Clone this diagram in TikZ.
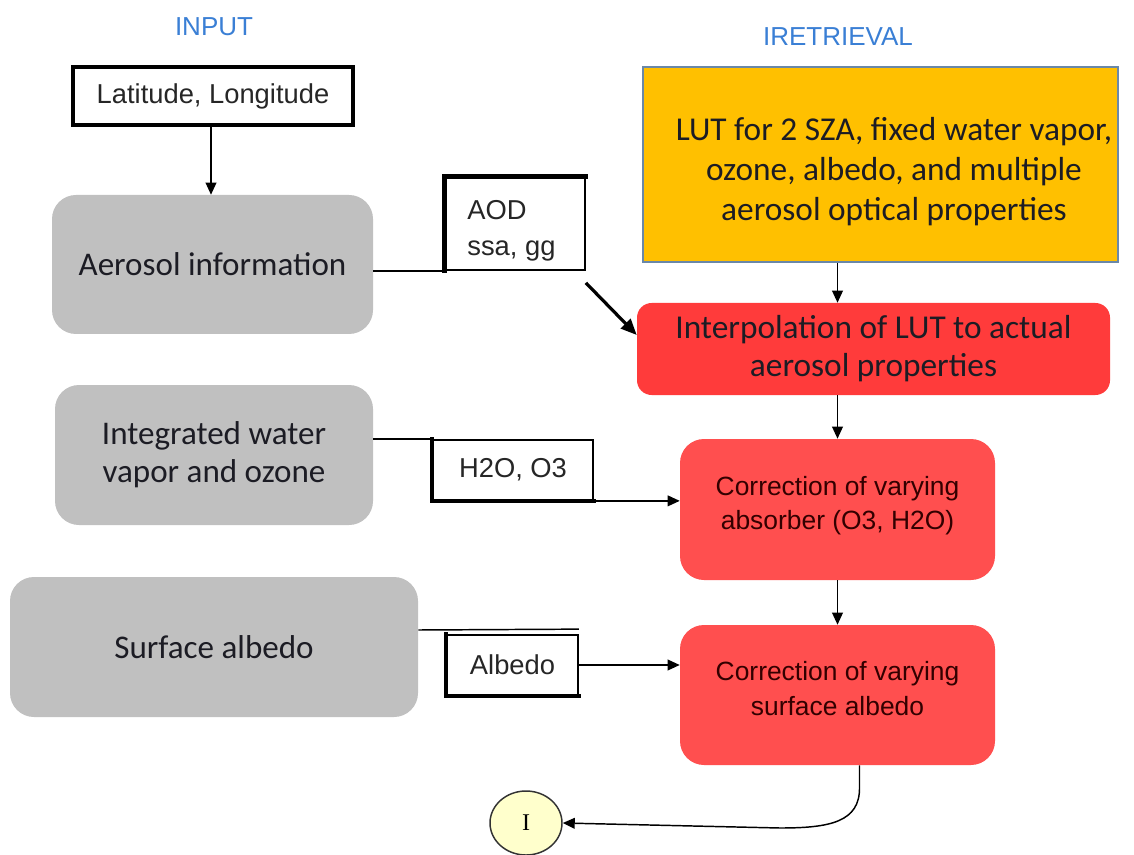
\documentclass[tikz,border=0pt]{standalone}
\usepackage{fontspec}
\setmainfont{Carlito}
\newfontfamily\pixfont{Liberation Sans}
\newfontfamily\seriffont{Liberation Serif}
\usetikzlibrary{arrows.meta,calc,shapes.geometric}
\definecolor{grayfill}{HTML}{C0C0C0}
\definecolor{lutfill}{HTML}{FFC000}
\definecolor{lutedge}{HTML}{6A88A8}
\definecolor{redA}{HTML}{FF3B3B}
\definecolor{redB}{HTML}{FF4F4F}
\definecolor{titleblue}{HTML}{3A7FD5}
\definecolor{circfill}{HTML}{FFFFCC}
\definecolor{txtdark}{HTML}{1C1C24}
\tikzset{
  x=0.75pt, y=-0.75pt,
  graybox/.style={fill=grayfill, rounded corners=18pt, align=center, text=txtdark,
    font=\fontsize{24.8}{28.5}\selectfont},
  redbox/.style={fill=redA, rounded corners=11pt, align=center, text=txtdark,
    font=\fontsize{25}{28.5}\selectfont},
  corrbox/.style={fill=redB, rounded corners=18pt, align=center, text=black!80!red,
    font=\pixfont\fontsize{19.8}{26}\selectfont},
  labbox/.style={draw=black, line width=1.3pt, fill=white, text=black!85,
    font=\pixfont\fontsize{20.5}{24}\selectfont},
  titletext/.style={text=titleblue, font=\pixfont\fontsize{19.5}{24}\selectfont},
  conn/.style={draw=black, line width=1.1pt},
  arr/.style={conn, -{Triangle[length=9pt,width=8pt]}},
}
\begin{document}
\begin{tikzpicture}
\useasboundingbox (0,0) rectangle (1134,855);
\fill[white] (0,0) rectangle (1134,855);

% titles
\node[titletext] (tin) at (214,27) {INPUT};
\node[titletext] (tret) at (838,37) {IRETRIEVAL};

% input boxes
\node[labbox, line width=2.4pt, minimum width=210pt, minimum height=43.5pt] (lat) at (213,96) {Latitude, Longitude};
\node[graybox, minimum width=240.75pt, minimum height=104.25pt] (aer) at (212.5,264.5) {Aerosol information};
\node[graybox, minimum width=238.5pt, minimum height=105pt] (wv) at (214,455) {Integrated water\\vapor and ozone};
\node[graybox, minimum width=306pt, minimum height=105pt] (sa) at (214,647) {Surface albedo};

% parameter boxes
\node[labbox, minimum width=105pt, minimum height=69.75pt] (aod) at (515,223.5) {};
\node[anchor=north west, inner sep=0pt, align=left, text=black!85,
  font=\pixfont\fontsize{20.5}{27}\selectfont] (aodtxt) at ($(aod.north west)+(23,24)$) {AOD\\ssa, gg};
\draw[line width=3.6pt, line cap=rect] (aod.south west) -- (aod.north west) -- (aod.north east);
\node[labbox, minimum width=120pt, minimum height=45pt] (h2o) at (513,470) {H2O, O3};
\draw[line width=3pt, line cap=rect] (h2o.north west) -- (h2o.south west) -- (h2o.south east);
\node[labbox, minimum width=98.25pt, minimum height=45pt] (alb) at (512.5,665) {Albedo};
\draw[line width=3pt, line cap=rect] (alb.north west) -- (alb.south west) -- (alb.south east);

% retrieval boxes
\node[fill=lutfill, draw=lutedge, line width=1.2pt, minimum width=356.25pt, minimum height=146.25pt] (lut) at (880.5,164.5) {};
\node[align=center, text=txtdark, font=\fontsize{25}{30}\selectfont] (luttxt) at (894,172)
  {LUT for 2 SZA, fixed water vapor,\\ozone, albedo, and multiple\\aerosol optical properties};
\node[redbox, minimum width=354.75pt, minimum height=69pt] (interp) at (873.5,349)
  {Interpolation of LUT to actual\\aerosol properties};
\node[corrbox, minimum width=236.25pt, minimum height=105.75pt] (abs) at (837.5,509.5)
  {Correction of varying\\absorber (O3, H2O)\\[-16pt]};
\node[corrbox, minimum width=236.25pt, minimum height=105pt] (surf) at (837.5,695)
  {Correction of varying\\surface albedo\\[-16pt]};
\node[ellipse, draw=black!80, line width=1.1pt, fill=circfill, minimum width=54pt, minimum height=48pt,
  inner sep=0pt, font=\seriffont\fontsize{18}{20}\selectfont] (circ) at (526,823) {I};

% connectors
\draw[arr] (lat.south -| 211,0) -- (aer.north -| 211,0);
\draw[conn] (aer.east |- aod.south west) -- (aod.south west);
\draw[conn, line width=2.4pt, -{Triangle[length=12pt,width=10pt]}] ($(aod.south east)+(0,12)$) -- ($(interp.west)+(0,-14)$);
\draw[arr] (lut.south -| abs.north) -- (interp.north -| abs.north);
\draw[arr] (interp.south -| abs.north) -- (abs.north);
\draw[conn] (wv.east |- h2o.north west) -- (h2o.north west);
\draw[arr] (h2o.south east) -- (h2o.south east -| abs.west);
\draw[arr] (abs.south) -- (surf.north);
\draw[conn] (sa.east |- 0,630) -- ($(alb.north east)+(0,-5)$);
\draw[arr] (alb.east) -- (alb.east -| surf.west);
\coordinate (bend) at (780,828);
\draw[arr] ($(surf.south)+(22,0)$) -- ++(0,22) .. controls (860,822) and (830,828) .. (bend) -- (circ.east);
\end{tikzpicture}
\end{document}
